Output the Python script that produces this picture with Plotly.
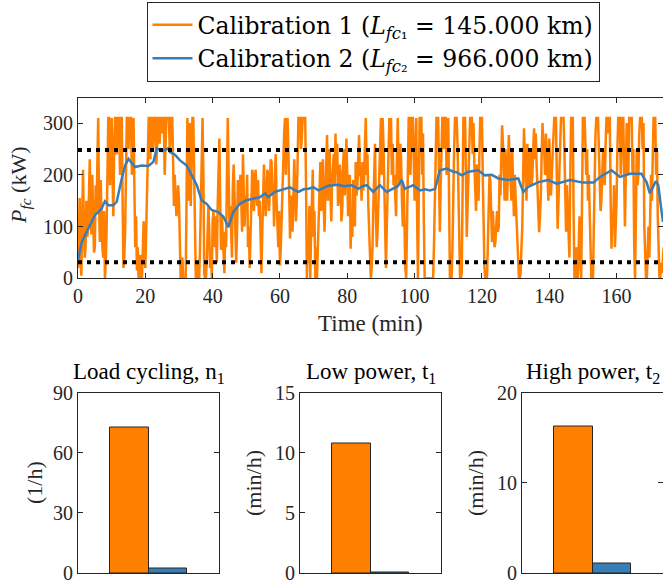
import plotly.graph_objects as go

# ---------------- data ----------------
TIME_STEP = 0.25  # min, sampling of the orange trace
cal1_power = [
    20, 90, 155, 30, 5, 120, 210, 100, 40, 60, 150, 80, 95, 160, 230, 120,
    85, 200, 140, 50, 60, 180, 128, 250, 310, 140, 70, 190, 110, 60, 40, 130,
    0, 30, 95, 200, 310, 310, 180, 260, 310, 200, 120, 250, 310, 310, 240, 310,
    310, 280, 200, 310, 310, 150, 20, 40, 90, 200, 310, 310, 250, 300, 310, 310,
    200, 260, 310, 180, 60, 120, 15, 60, 0, 20, 45, 0, 0, 50, 110, 40,
    20, 90, 180, 250, 310, 310, 230, 310, 310, 250, 290, 310, 310, 220, 250, 310,
    310, 260, 310, 310, 280, 310, 310, 200, 250, 310, 310, 310, 310, 250, 290, 310,
    310, 220, 140, 200, 160, 120, 140, 180, 150, 60, 0, 10, 40, 0, 0, 0,
    0, 150, 310, 260, 150, 300, 140, 230, 310, 310, 200, 120, 0, 0, 30, 0,
    0, 60, 150, 250, 310, 200, 10, 0, 0, 30, 70, 140, 90, 20, 50, 0,
    110, 130, 60, 120, 85, 30, 140, 200, 270, 150, 55, 120, 80, 30, 10, 90,
    60, 200, 310, 200, 100, 140, 90, 40, 180, 220, 160, 110, 30, 90, 190, 140,
    170, 200, 150, 90, 240, 180, 100, 160, 130, 200, 60, 100, 20, 80, 150, 210,
    200, 130, 160, 210, 180, 140, 190, 120, 150, 60, 10, 90, 190, 220, 160, 120,
    150, 210, 200, 130, 170, 230, 225, 160, 180, 100, 200, 240, 150, 100, 60, 130,
    25, 60, 130, 190, 220, 280, 310, 200, 300, 310, 250, 150, 77, 160, 120, 90,
    160, 230, 180, 110, 150, 240, 310, 310, 310, 250, 270, 310, 310, 310, 310, 180,
    0, 70, 30, 140, 0, 90, 160, 210, 80, 130, 0, 60, 0, 50, 120, 180,
    225, 130, 190, 230, 140, 90, 170, 220, 277, 150, 200, 250, 160, 110, 190, 230,
    240, 180, 280, 200, 260, 140, 150, 220, 200, 110, 130, 220, 250, 160, 245, 270,
    200, 120, 150, 200, 57, 130, 80, 190, 150, 100, 225, 160, 180, 240, 277, 200,
    200, 150, 225, 170, 190, 260, 310, 200, 240, 140, 100, 30, 0, 20, 60, 140,
    200, 260, 130, 60, 90, 170, 200, 250, 310, 200, 310, 260, 160, 60, 20, 100,
    150, 240, 310, 250, 310, 200, 260, 180, 200, 150, 120, 230, 310, 210, 180, 260,
    230, 150, 100, 180, 70, 20, 0, 90, 200, 310, 310, 200, 270, 310, 310, 220,
    150, 240, 310, 120, 0, 160, 310, 310, 310, 200, 280, 110, 0, 0, 0, 0,
    0, 0, 0, 0, 0, 0, 0, 60, 150, 250, 310, 310, 310, 200, 90, 180,
    260, 310, 310, 250, 310, 310, 200, 260, 310, 150, 0, 0, 0, 60, 180, 250,
    310, 310, 310, 260, 200, 90, 0, 0, 10, 150, 310, 310, 310, 200, 80, 140,
    200, 260, 310, 310, 310, 240, 300, 220, 180, 130, 220, 190, 150, 240, 310, 310,
    310, 200, 80, 20, 0, 0, 0, 60, 140, 200, 190, 120, 70, 130, 100, 60,
    70, 120, 130, 90, 100, 200, 160, 230, 296, 260, 200, 150, 250, 200, 150, 220,
    277, 230, 200, 150, 250, 180, 120, 200, 160, 100, 90, 40, 0, 0, 10, 60,
    100, 200, 290, 240, 200, 150, 260, 210, 180, 230, 250, 180, 200, 250, 290, 230,
    280, 220, 180, 120, 89, 120, 160, 240, 300, 260, 250, 200, 280, 240, 200, 150,
    270, 210, 160, 200, 230, 280, 310, 310, 310, 200, 96, 150, 200, 280, 310, 310,
    310, 310, 250, 150, 90, 180, 120, 60, 40, 200, 310, 310, 310, 120, 0, 0,
    60, 20, 0, 60, 120, 40, 0, 150, 310, 310, 310, 260, 200, 250, 150, 200,
    120, 40, 0, 0, 0, 100, 200, 280, 310, 310, 310, 250, 200, 130, 150, 230,
    250, 200, 180, 260, 310, 310, 280, 310, 310, 150, 57, 120, 100, 180, 60, 100,
    150, 250, 310, 310, 310, 200, 250, 310, 310, 180, 100, 200, 300, 250, 200, 310,
    310, 310, 310, 200, 250, 60, 0, 120, 250, 180, 200, 280, 310, 310, 310, 250,
    300, 100, 31, 0, 0, 60, 100, 40, 96, 200, 150, 260, 310, 310, 310, 200,
    250, 120, 40, 0, 0, 30, 10, 50, 60,
]
cal1_time = [i * TIME_STEP for i in range(len(cal1_power))]

cal2_time = [0, 1.1, 2.0, 3.1, 4.0, 5.0, 6.0, 7.0, 8.0, 9.0, 10.5, 11.5, 13.0, 14.0, 15.0,
             16.0, 16.9, 18.9, 20.9, 22.4, 23.4, 24.9, 26.8, 27.3, 28.8, 30.3, 32.3,
             33.8, 35.3, 36.7, 38.2, 39.7, 41.7, 43.2, 44.7, 46.1, 48.1, 50.1, 52.1,
             54.1, 55.6, 56.5, 58.5, 60.0, 61.5, 63.0, 64.5, 65.5, 67.0, 68.4, 70.0,
             71.4, 73.0, 74.4, 77.3, 79.0, 81.3, 83.3, 84.5, 85.8, 87.7, 89.7, 91.7,
             93.7, 95.0, 96.2, 97.1, 99.6, 101.6, 103.0, 104.6, 106.1, 107.5, 109.5,
             111.5, 112.5, 114.0, 116.0, 118.9, 120.9, 122.9, 124.9, 127.8, 130.8,
             132.3, 133.8, 136.8, 139.7, 142.2, 146.1, 150.1, 153.1, 155.1, 158.5,
             161.0, 164.0, 167.4, 168.9, 169.9, 171.7, 172.4, 173.4, 173.8]
cal2_power = [35, 70, 82, 96, 110, 122, 128, 135, 149, 141, 141, 148, 193, 218, 231,
              222, 215, 218, 217, 225, 251, 246, 251, 244, 239, 228, 218,
              199, 180, 151, 144, 132, 128, 119, 99, 128, 144, 151, 154,
              157, 164, 157, 167, 170, 173, 176, 170, 167, 172, 173, 176,
              170, 175, 179, 181, 178, 180, 173, 178, 180, 167, 180, 167,
              173, 178, 190, 173, 180, 170, 172, 170, 173, 209, 212,
              206, 205, 199, 206, 209, 199, 200, 193, 190, 193,
              167, 177, 186, 190, 183, 190, 185, 185, 196, 209,
              196, 202, 202, 186, 164, 188, 180, 128, 109]

LOW_LIMIT = 31    # kW
HIGH_LIMIT = 248  # kW

legend_names = ["Calibration 1 (<i>L</i><sub><i>fc</i>\u2081</sub> = 145.000 km)",
                "Calibration 2 (<i>L</i><sub><i>fc</i>\u2082</sub> = 966.000 km)"]

bar_titles = ["Load cycling, n<sub>1</sub>", "Low power, t<sub>1</sub>", "High power, t<sub>2</sub>"]
bar_units = ["(1/h)", "(min/h)", "(min/h)"]
load_cycling = [72.6, 2.3]
low_power = [10.75, 0.05]
high_power = [16.2, 1.06]
bar_ranges = [[0, 90], [0, 15], [0, 20]]
bar_ticks = [[0, 30, 60, 90], [0, 5, 10, 15], [0, 10, 20]]
bar_pos = [-0.5, 0.5]

ORANGE = "#FF7F00"
BLUE = "#377EB8"
AX = "#262626"
FONT = "Liberation Serif"
LEGEND_FONT = "DejaVu Serif"
W, H = 663, 581

def fx(px):
    return px / W

def fy(py):
    return 1 - py / H

fig = go.Figure()

fig.add_trace(go.Scatter(x=cal1_time, y=cal1_power, mode="lines", name=legend_names[0],
                         line=dict(color=ORANGE, width=2.5), xaxis="x", yaxis="y"))
fig.add_trace(go.Scatter(x=cal2_time, y=cal2_power, mode="lines", name=legend_names[1],
                         line=dict(color=BLUE, width=2.5), xaxis="x", yaxis="y"))
x_end = 173.8
for lim in (HIGH_LIMIT, LOW_LIMIT):
    fig.add_trace(go.Scatter(x=[0, x_end], y=[lim, lim], mode="lines", showlegend=False,
                             line=dict(color="black", width=4, dash="4px,5px"),
                             xaxis="x", yaxis="y"))

bar_data = [load_cycling, low_power, high_power]
for i, vals in enumerate(bar_data):
    fig.add_trace(go.Bar(x=bar_pos, y=vals, width=1, showlegend=False,
                         marker=dict(color=[ORANGE, BLUE], line=dict(color=AX, width=1)),
                         xaxis=f"x{i+2}", yaxis=f"y{i+2}"))

common = dict(showline=True, linecolor=AX, linewidth=1, mirror="ticks", ticks="inside",
              ticklen=5, tickcolor=AX, showgrid=False, zeroline=False, automargin=False,
              ticklabeloverflow="allow",
              tickfont=dict(family=FONT, size=20, color=AX))

layout = dict(
    width=W, height=H, autosize=False,
    margin=dict(l=0, r=0, t=0, b=0, autoexpand=False),
    paper_bgcolor="white", plot_bgcolor="white",
    font=dict(family=FONT, color=AX),
    bargap=0,
    showlegend=True,
    legend=dict(x=fx(373), xanchor="center", y=fy(2), yanchor="top",
                bgcolor="white", bordercolor=AX, borderwidth=1,
                font=dict(family=LEGEND_FONT, size=23.5, color="black"),
                itemwidth=40, tracegroupgap=0),
    xaxis=dict(common, domain=[fx(78), 1.0], range=[0, x_end],
               tickvals=[0, 20, 40, 60, 80, 100, 120, 140, 160], anchor="y"),
    yaxis=dict(common, domain=[fy(278.3), fy(98.3)], range=[0, 348],
               tickvals=[0, 100, 200, 300], anchor="x"),
)
bar_left = [78, 300, 522]
for i in range(3):
    l = bar_left[i]
    layout[f"xaxis{i+2}"] = dict(common, domain=[fx(l), min(1.0, fx(l + 141))], range=[-1.808, 1.808],
                                 showticklabels=False, ticks="", mirror=True, anchor=f"y{i+2}")
    layout[f"yaxis{i+2}"] = dict(common, domain=[fy(573), fy(392.5)], range=bar_ranges[i],
                                 tickvals=bar_ticks[i], anchor=f"x{i+2}")
fig.update_layout(**layout)

ann = []
ann.append(dict(text="Time (min)", x=fx(370), y=fy(323), xref="paper", yref="paper",
                showarrow=False, xanchor="center", yanchor="middle",
                font=dict(family=FONT, size=23, color=AX)))
ann.append(dict(text="<i>P</i><sub><i>fc</i></sub> (kW)", x=fx(20), y=fy(186), xref="paper", yref="paper",
                showarrow=False, xanchor="center", yanchor="middle", textangle=-90,
                font=dict(family=FONT, size=22, color=AX)))
unit_x = [34, 253, 475]
for i in range(3):
    cx = bar_left[i] + 70.5
    ann.append(dict(text=bar_titles[i], x=fx(cx), y=fy(373), xref="paper", yref="paper",
                    showarrow=False, xanchor="center", yanchor="middle",
                    font=dict(family=FONT, size=23, color="black")))
    ann.append(dict(text=bar_units[i], x=fx(unit_x[i]), y=fy(483), xref="paper", yref="paper",
                    showarrow=False, xanchor="center", yanchor="middle", textangle=-90,
                    font=dict(family=FONT, size=22, color=AX)))
fig.update_layout(annotations=ann)

fig.write_html("out.html", config={"displayModeBar": False},
               post_script="document.body.style.margin='0';document.body.style.overflow='hidden';")
